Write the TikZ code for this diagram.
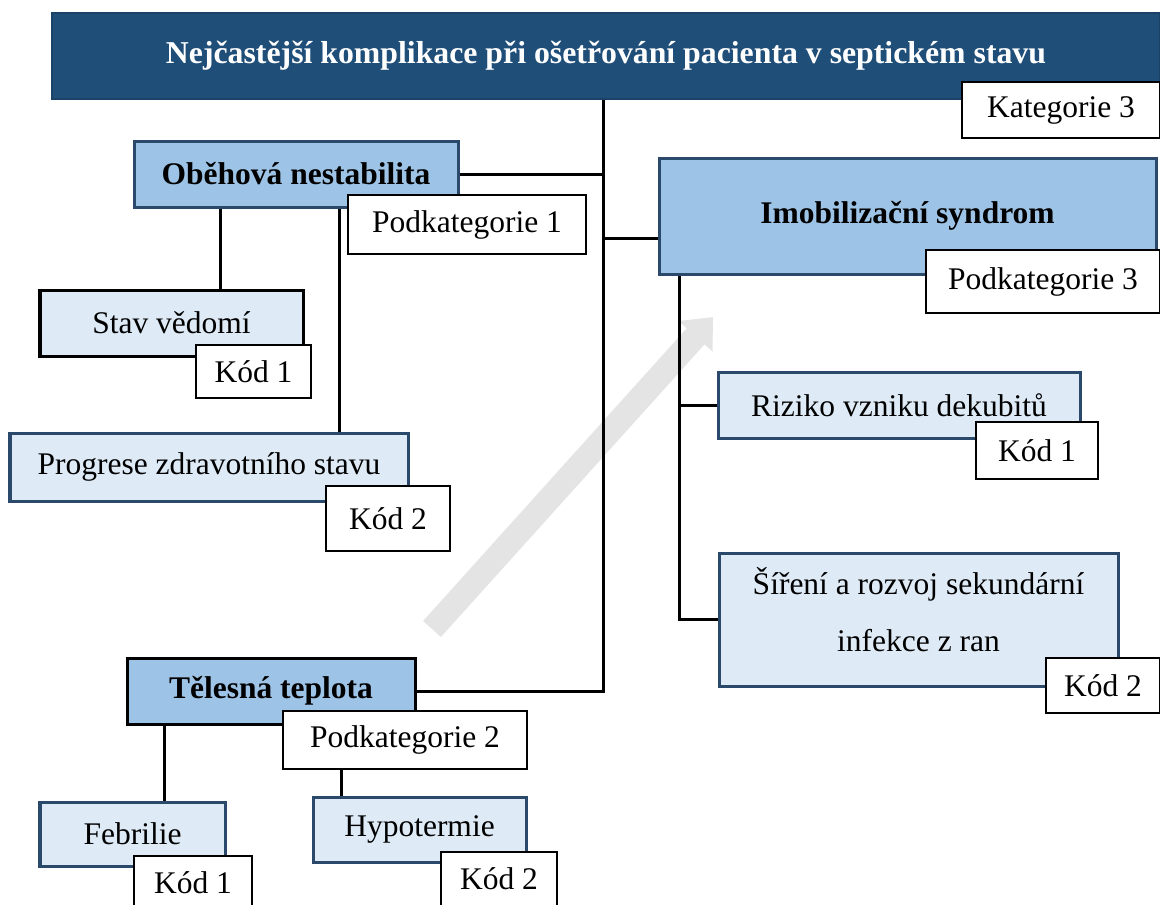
\documentclass[tikz,border=0pt]{standalone}
\usepackage{fontspec}
\setmainfont{Liberation Serif}
\usetikzlibrary{calc,arrows.meta}
\newcommand{\pxu}{0.025cm}
\definecolor{titleblue}{HTML}{1F4E79}
\definecolor{midblue}{HTML}{9DC3E6}
\definecolor{lightblue}{HTML}{DEEBF7}
\definecolor{framecol}{HTML}{2B4A6B}
\definecolor{arrowgrey}{HTML}{E4E4E4}
\tikzset{
	every node/.style={font=\fontsize{22.4}{27}\selectfont, inner sep=0pt},
	sz/.style 2 args={minimum width=#1*\pxu, minimum height=#2*\pxu},
	headbox/.style={draw=titleblue!85!black, fill=titleblue, text=white, line width=0.05cm, font=\fontsize{22.6}{27}\selectfont\bfseries},
	catbox/.style={draw=framecol, fill=midblue, line width=0.075cm, font=\fontsize{22.4}{27}\selectfont\bfseries},
	itembox/.style={draw=framecol, fill=lightblue, line width=0.075cm},
	tagbox/.style={draw=black, fill=white, line width=0.0625cm},
	link/.style={line width=0.075cm},
	trend/.style={draw=arrowgrey, line width=0.6cm, -{Triangle[length=0.65cm,width=1.1cm]}}
}

\begin{document}
\begin{tikzpicture}[x=0.025cm, y=-0.025cm]
	\useasboundingbox (0,0) rectangle (1160,904);
	\draw[trend] (432,629) -- (713,317);

	\node[headbox, sz={1108}{86}] (title) at (606,56) {Nejčastější komplikace při ošetřování pacienta v septickém stavu};
	\node[catbox, sz={324}{66}] (obeh) at (296,174) {Oběhová nestabilita};
	\node[catbox, sz={497}{116}] (imob) at (907.5,216) {Imobilizační syndrom};
	\node[catbox, draw=black, sz={288}{66}] (tel) at (271,691) {Tělesná teplota};
	\node[itembox, draw=black, sz={263}{66}] (stav) at (171.5,323) {Stav vědomí};
	\node[itembox, sz={398}{68}] (progr) at (209,467) {Progrese zdravotního stavu};
	\node[itembox, sz={362}{66}] (rizik) at (899,405) {Riziko vzniku dekubitů};
	\node[itembox, sz={399}{133}, align=center, text depth=14pt, font=\fontsize{22.4}{40.5}\selectfont] (sir) at (918.5,619.5) {Šíření a rozvoj sekundární\\infekce z ran};
	\node[itembox, sz={185}{64}] (febr) at (132.5,834) {Febrilie};
	\node[itembox, sz={213}{65}] (hypo) at (419.5,829.5) {Hypotermie};

	\coordinate (trunk) at (603,691);
	\coordinate (obehL) at (220,0);
	\coordinate (obehR) at (339,0);
	\coordinate (imobL) at (679,0);
	\coordinate (imobW) at ($(imob.west)!0.38!(imob.south west)$);
	\coordinate (telL) at (164,0);
	\coordinate (podL) at (341,0);
	\draw[link] (title.south -| trunk) -- (trunk) -- (tel.east);
	\draw[link] (obeh.east) -- (obeh.east -| trunk);
	\draw[link] (imobW) -- (imobW -| trunk);
	\draw[link] (obehL |- obeh.south) -- (obehL |- stav.north);
	\draw[link] (obehR |- obeh.south) -- (obehR |- progr.north);
	\draw[link] (imobL |- imob.south) -- (imobL |- sir.west) -- (sir.west);
	\draw[link] (imobL |- rizik.west) -- (rizik.west);
	\draw[link] (telL |- tel.south) -- (telL |- febr.north);

	\node[tagbox, sz={198}{56}] (kat3) at (1061,110) {Kategorie 3};
	\node[tagbox, sz={238}{59}] (pod1) at (467,224.5) {Podkategorie 1};
	\node[tagbox, sz={234}{63}] (pod3) at (1043,281.5) {Podkategorie 3};
	\node[tagbox, sz={244}{58}] (pod2) at (405,740) {Podkategorie 2};
	\draw[link] (podL |- pod2.south) -- (podL |- hypo.north);
	\node[tagbox, sz={115}{53}] (kod11) at (253.5,371.5) {Kód 1};
	\node[tagbox, sz={124}{65}] (kod12) at (388,518.5) {Kód 2};
	\node[tagbox, sz={122}{57}] (kod31) at (1037,450.5) {Kód 1};
	\node[tagbox, sz={114}{55}] (kod32) at (1103,685.5) {Kód 2};
	\node[tagbox, sz={118}{54}] (kod21) at (193,883) {Kód 1};
	\node[tagbox, sz={116}{54}] (kod22) at (499,879) {Kód 2};
\end{tikzpicture}
\end{document}
